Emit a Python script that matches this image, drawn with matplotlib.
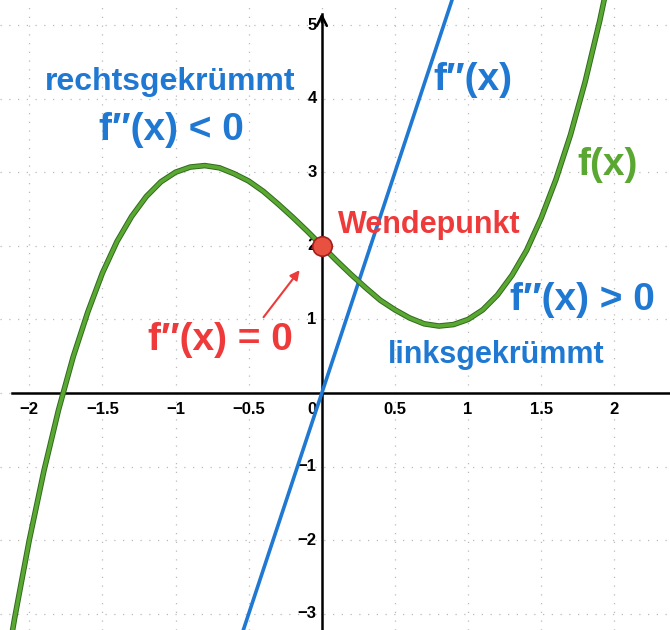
import numpy as np
import matplotlib
matplotlib.use("Agg")
import matplotlib.pyplot as plt
import matplotlib.patheffects as pe

plt.rcParams['font.family'] = ['Liberation Sans', 'DejaVu Sans']

# f(x), points
fx = [-2.15, -2.1, -2.0, -1.9, -1.8, -1.7, -1.6, -1.5, -1.4, -1.3, -1.2, -1.1, -1.0,
      -0.9, -0.8, -0.7, -0.6, -0.5, -0.4, -0.3, -0.2, -0.1, 0.0, 0.1, 0.2,
      0.3, 0.4, 0.5, 0.6, 0.7, 0.8, 0.9, 1.0, 1.1, 1.2, 1.3, 1.4, 1.5, 1.6,
      1.7, 1.8, 1.9, 2.0]
fy = [-3.64, -3.06, -2.0, -1.06, -0.23, 0.49, 1.10, 1.63, 2.06, 2.40, 2.67, 2.87, 3.0,
      3.07, 3.09, 3.06, 2.98, 2.88, 2.74, 2.57, 2.39, 2.20, 2.0, 1.80, 1.61,
      1.43, 1.26, 1.13, 1.02, 0.94, 0.91, 0.93, 1.0, 1.13, 1.33, 1.60, 1.94,
      2.38, 2.90, 3.51, 4.23, 5.06, 6.0]

# f''(x), straight line
f2x = [-0.6, 0.95]
f2y = [-3.6, 5.7]

# inflection point
wp_x, wp_y = 0.0, 2.0

xticks = [-2, -1.5, -1, -0.5, 0.5, 1, 1.5, 2]
xticklabels = ['\u22122', '\u22121.5', '\u22121', '\u22120.5', '0.5', '1', '1.5', '2']
yticks = [-3, -2, -1, 1, 2, 3, 4, 5]
yticklabels = ['\u22123', '\u22122', '\u22121', '1', '2', '3', '4', '5']

blue = '#1f78d1'
green = '#5aa832'
red = '#ee3a3a'

fig = plt.figure(figsize=(6.7, 6.3), dpi=100)
ax = fig.add_axes([0, 0, 1, 1])
ax.set_xlim(-2.2, 2.38)
ax.set_ylim(-3.22, 5.34)

# grid
ax.set_xticks(np.arange(-2, 2.01, 0.5))
ax.set_yticks(np.arange(-3, 5.01, 1))
ax.grid(True, ls=(0, (1, 6)), color='#bbbbbb', lw=0.9)
ax.tick_params(length=0, labelbottom=False, labelleft=False)

for s in ['top', 'right']:
    ax.spines[s].set_visible(False)
ax.spines['left'].set_position(('data', 0))
ax.spines['bottom'].set_position(('data', 0))
ax.spines['left'].set_linewidth(1.8)
ax.spines['bottom'].set_linewidth(1.8)
ax.spines['left'].set_bounds(-3.22, 5.15)
ax.spines['bottom'].set_bounds(-2.12, 2.38)
ax.annotate('', xy=(0, 5.2), xytext=(0, 5.0),
            arrowprops=dict(arrowstyle='->', lw=1.8, color='black',
                            mutation_scale=18))

# tick labels
for x, lab in zip(xticks, xticklabels):
    ax.text(x, -0.22, lab, ha='center', va='center', fontsize=12, fontweight='bold')
ax.text(-0.07, -0.22, '0', ha='center', va='center', fontsize=12, fontweight='bold')
for y, lab in zip(yticks, yticklabels):
    ax.text(-0.035, y, lab, ha='right', va='center', fontsize=12, fontweight='bold')

# curves
ax.plot(f2x, f2y, color=blue, lw=2.6, zorder=3)
ax.plot(fx, fy, color=green, lw=2.6, zorder=4,
        path_effects=[pe.Stroke(linewidth=4.0, foreground='#2f6a1e'), pe.Normal()])
ax.plot([wp_x], [wp_y], 'o', ms=14, color='#e8503f', mec='#a02020', mew=1.2, zorder=5)

# annotations
tkw = dict(fontweight='bold', ha='center', va='center')
ax.text(-1.04, 4.22, 'rechtsgekrümmt', color=blue, fontsize=23, **tkw)
ax.text(-1.03, 3.57, 'f\u2033(x) < 0', color=blue, fontsize=28, **tkw)
ax.text(1.03, 4.25, 'f\u2033(x)', color=blue, fontsize=28, **tkw)
ax.text(1.95, 3.1, 'f(x)', color=green, fontsize=28, **tkw)
ax.text(0.11, 2.28, 'Wendepunkt', color=red, fontsize=22, fontweight='bold',
        ha='left', va='center')
ax.text(-0.69, 0.72, 'f\u2033(x) = 0', color=red, fontsize=28, **tkw)
ax.annotate('', xy=(-0.14, 1.7), xytext=(-0.41, 1.0),
            arrowprops=dict(arrowstyle='-|>', lw=1.5, color=red, mutation_scale=14))
ax.text(1.78, 1.26, 'f\u2033(x) > 0', color=blue, fontsize=28, **tkw)
ax.text(1.19, 0.52, 'linksgekrümmt', color=blue, fontsize=22, **tkw)

fig.savefig('out.png', dpi=100)
